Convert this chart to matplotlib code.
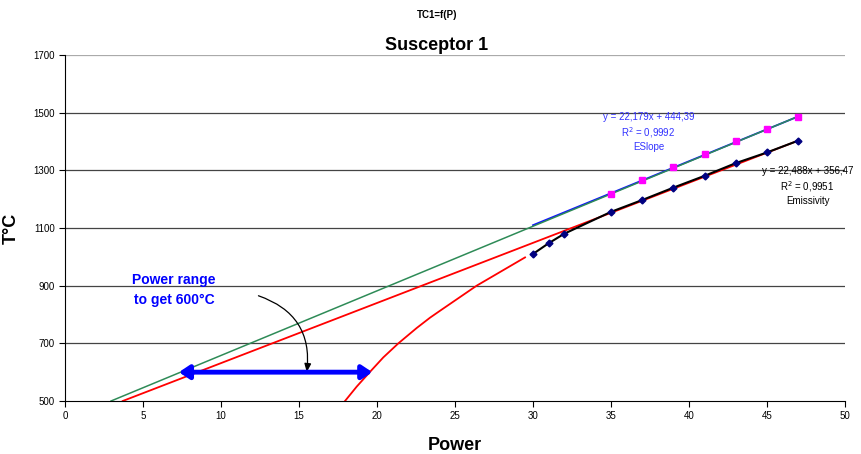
import matplotlib.pyplot as plt
from matplotlib.patches import FancyArrowPatch

plt.rcParams['font.family'] = ['Liberation Sans Narrow', 'Liberation Sans', 'DejaVu Sans']

# measured points
eslope_x = [35, 37, 39, 41, 43, 45, 47]
eslope_y = [1218, 1268, 1313, 1358, 1402, 1442, 1486]
emis_x = [30, 31, 32, 35, 37, 39, 41, 43, 45, 47]
emis_y = [1010, 1047, 1080, 1156, 1197, 1240, 1281, 1325, 1362, 1403]

# trend / extrapolation lines
green_x = [2.95, 47]
green_y = [500, 1487]
blue_x = [30, 47]
blue_y = [1109.8, 1486.8]
red_x = [3.7, 47]
red_y = [500, 1403]
curve_x = [17.95, 18.7, 19.55, 20.4, 21.37, 22.54, 23.4, 24.04, 26.39, 29.49]
curve_y = [500, 550, 601, 651, 700, 753, 789, 813, 900, 998]

range_x = [7.3, 19.7]
range_y = 600

xticks = list(range(0, 51, 5))
yticks = list(range(500, 1701, 200))

fig = plt.figure(figsize=(8.61, 4.54), dpi=100)
ax = fig.add_axes([65/861, 53/454, 780/861, 346/454])

for t in yticks[1:-1]:
    ax.axhline(t, color='#444444', linewidth=0.9, zorder=0)
ax.axhline(1700, color='#aaaaaa', linewidth=0.9, zorder=0)

ax.plot(blue_x, blue_y, color='#1010ff', linewidth=1.3)
ax.plot(green_x, green_y, color='#2e8b57', linewidth=1.1)
ax.plot(red_x, red_y, color='#ff0000', linewidth=1.3)
ax.plot(curve_x, curve_y, color='#ff0000', linewidth=1.3, solid_joinstyle='round')
ax.plot(emis_x, emis_y, color='black', linewidth=1.5, marker='D', markersize=3.5,
        markerfacecolor='#000080', markeredgecolor='#000080', zorder=4)
ax.plot(eslope_x, eslope_y, linestyle='none', marker='s', markersize=4.5,
        markerfacecolor='#ff00ff', markeredgecolor='#ff00ff', zorder=4)

# power range double arrow
ax.add_patch(FancyArrowPatch((range_x[0], range_y), (range_x[1], range_y),
                             arrowstyle='<|-|>,head_length=6,head_width=4',
                             color='#0000ff', linewidth=3.5, shrinkA=0, shrinkB=0, zorder=5))
ax.annotate('', xy=(15.5, 600), xytext=(12.4, 865),
            arrowprops=dict(arrowstyle='-|>,head_length=0.5,head_width=0.2', color='black',
                            linewidth=0.9, connectionstyle='arc3,rad=-0.4',
                            shrinkA=0, shrinkB=0))
ax.text(7.0, 885, 'Power range\nto get 600°C', color='#0000ff', fontsize=10,
        fontweight='bold', ha='center', va='center', linespacing=1.6)

ax.text(37.4, 1433, 'y = 22,179x + 444,39\nR$^2$ = 0,9992\nESlope', color='#3333ff',
        fontsize=7, ha='center', va='center', linespacing=1.3)
ax.text(47.6, 1246, 'y = 22,488x + 356,47\nR$^2$ = 0,9951\nEmissivity', color='black',
        fontsize=7, ha='center', va='center', linespacing=1.3)

ax.set_xlim(0, 50)
ax.set_ylim(500, 1700)
ax.set_xticks(xticks)
ax.set_yticks(yticks)
ax.tick_params(labelsize=7, length=4, width=0.8, direction='out')
ax.spines['top'].set_visible(False)
ax.spines['right'].set_visible(False)
ax.set_xlabel('Power', fontsize=13, fontweight='bold', labelpad=11)
ax.set_ylabel('T°C', fontsize=13, fontweight='bold')
ax.yaxis.set_label_coords(-0.058, 0.5)

fig.text(437/861, 1 - 15/454, 'TC1=f(P)', fontsize=7, fontweight='bold', ha='center', va='center')
fig.text(437/861, 1 - 45/454, 'Susceptor 1', fontsize=13, fontweight='bold', ha='center', va='center')

fig.savefig('out.png', dpi=100)
